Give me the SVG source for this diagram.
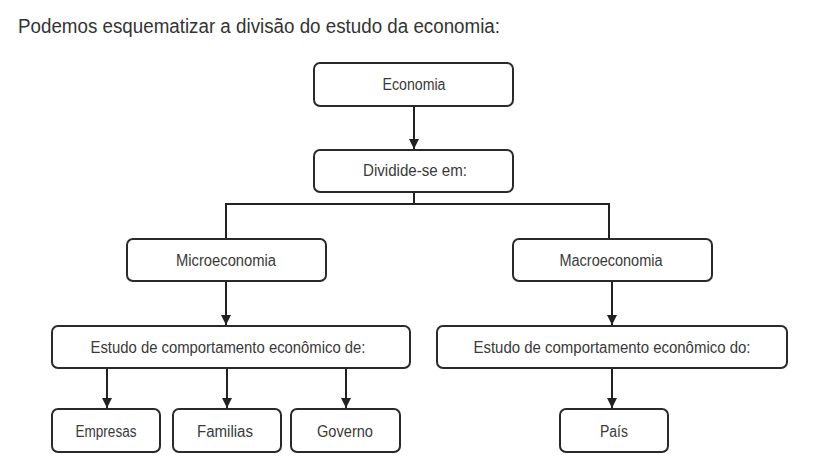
<svg xmlns="http://www.w3.org/2000/svg" width="826" height="473" viewBox="0 0 826 473">
<style>
.box{fill:#fff;stroke:#2a2a2a;stroke-width:2}
.lbl{font-family:"Liberation Sans Narrow","Liberation Sans",Arial,sans-serif;font-size:16px;fill:#3a3a3a;text-anchor:middle}
.title{font-family:"Liberation Sans Narrow","Liberation Sans",Arial,sans-serif;font-size:20px;fill:#333}
.ln{fill:none;stroke:#222;stroke-width:2}
</style>
<defs>
<marker id="ah" viewBox="0 0 10 10" refX="10" refY="5" markerWidth="5.5" markerHeight="5" orient="auto" markerUnits="strokeWidth">
<path d="M0,0 L10,5 L0,10 Z" fill="#222"/>
</marker>
</defs>
<rect width="826" height="473" fill="#fff"/>
<text class="title" x="18" y="33" textLength="482" lengthAdjust="spacingAndGlyphs">Podemos esquematizar a divisão do estudo da economia:</text>
<g id="connectors">
<line class="ln" x1="414" y1="106" x2="414" y2="149" marker-end="url(#ah)"/>
<polyline class="ln" points="414,192 414,204"/>
<polyline class="ln" points="226,239 226,204 609,204 609,239"/>
<line class="ln" x1="226" y1="281" x2="226" y2="325" marker-end="url(#ah)"/>
<line class="ln" x1="612" y1="281" x2="612" y2="325" marker-end="url(#ah)"/>
<line class="ln" x1="107" y1="368" x2="107" y2="408" marker-end="url(#ah)"/>
<line class="ln" x1="227" y1="368" x2="227" y2="408" marker-end="url(#ah)"/>
<line class="ln" x1="346" y1="368" x2="346" y2="408" marker-end="url(#ah)"/>
<line class="ln" x1="612" y1="368" x2="612" y2="408" marker-end="url(#ah)"/>
</g>
<g id="economia"><rect class="box" x="314" y="63" width="199" height="43" rx="6"/><text class="lbl" x="414" y="90" textLength="63" lengthAdjust="spacingAndGlyphs">Economia</text></g>
<g id="divide"><rect class="box" x="314" y="150" width="199" height="42" rx="6"/><text class="lbl" x="415" y="176" textLength="104" lengthAdjust="spacingAndGlyphs">Dividide-se em:</text></g>
<g id="micro"><rect class="box" x="127" y="239" width="199" height="42" rx="6"/><text class="lbl" x="226" y="266" textLength="100" lengthAdjust="spacingAndGlyphs">Microeconomia</text></g>
<g id="macro"><rect class="box" x="513" y="239" width="199" height="42" rx="6"/><text class="lbl" x="611" y="266" textLength="103" lengthAdjust="spacingAndGlyphs">Macroeconomia</text></g>
<g id="estudo-micro"><rect class="box" x="52" y="326" width="358" height="42" rx="6"/><text class="lbl" x="228" y="353" textLength="275" lengthAdjust="spacingAndGlyphs">Estudo de comportamento econômico de:</text></g>
<g id="estudo-macro"><rect class="box" x="437" y="326" width="350" height="42" rx="6"/><text class="lbl" x="612" y="353" textLength="277" lengthAdjust="spacingAndGlyphs">Estudo de comportamento econômico do:</text></g>
<g id="empresas"><rect class="box" x="52" y="409" width="108" height="43" rx="6"/><text class="lbl" x="106" y="437" textLength="61" lengthAdjust="spacingAndGlyphs">Empresas</text></g>
<g id="familias"><rect class="box" x="173" y="409" width="108" height="43" rx="6"/><text class="lbl" x="225" y="437" textLength="56" lengthAdjust="spacingAndGlyphs">Familias</text></g>
<g id="governo"><rect class="box" x="291" y="409" width="109" height="43" rx="6"/><text class="lbl" x="345" y="437" textLength="56" lengthAdjust="spacingAndGlyphs">Governo</text></g>
<g id="pais"><rect class="box" x="560" y="409" width="108" height="43" rx="6"/><text class="lbl" x="614" y="437" textLength="28" lengthAdjust="spacingAndGlyphs">País</text></g>
</svg>
